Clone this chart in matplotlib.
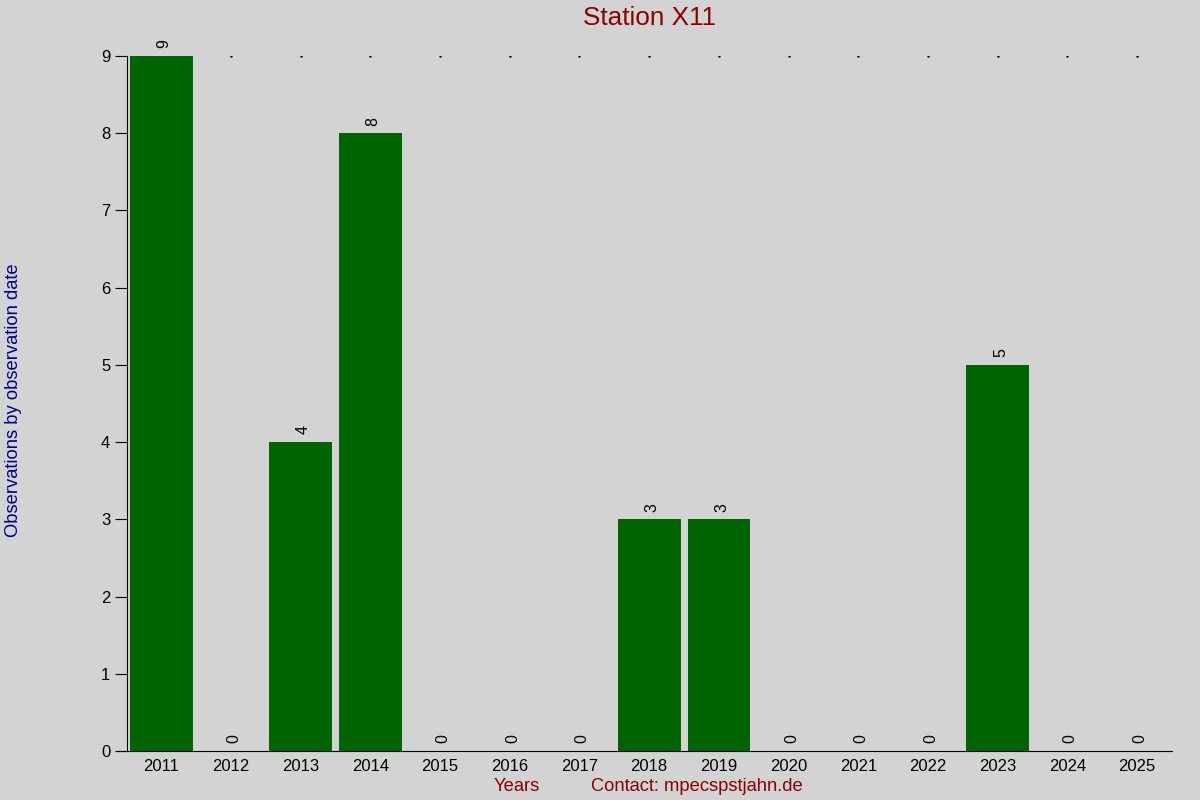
import matplotlib
matplotlib.use("Agg")
import matplotlib.pyplot as plt

plt.rcParams["font.family"] = ["Liberation Sans", "DejaVu Sans"]

years = [str(y) for y in range(2011, 2026)]
counts = [9, 0, 4, 8, 0, 0, 0, 3, 3, 0, 0, 0, 5, 0, 0]

bg = "#d3d3d3"
fig = plt.figure(figsize=(12, 8), dpi=100, facecolor=bg)
ax = fig.add_axes([0.0983, 0.06125, 0.8784, 0.86875], facecolor=bg)

x = list(range(len(years)))
ax.bar(x, counts, width=0.9, color="#006400", zorder=3)
for xi, v in zip(x, counts):
    ax.text(xi + 0.04, v + 0.1, str(v), rotation=90, ha="center", va="bottom",
            fontsize=11.5, color="black", zorder=4)

# dotted marks at the top level, hidden behind the bars
ax.plot(x, [9] * len(x), ls="none", marker=".", ms=1.5, color="black",
        zorder=2)

ax.set_xlim(-0.62, 14.5)
ax.set_ylim(0, 9)
ax.set_xticks(x)
ax.set_xticklabels(years, fontsize=12)
ax.set_yticks(range(10))
ax.tick_params(axis="x", length=0, pad=6)
ax.tick_params(axis="y", length=9, labelsize=12, pad=3)
ax.spines["top"].set_visible(False)
ax.spines["right"].set_visible(False)
ax.spines["left"].set_position(("data", -0.49))

fig.text(0.541, 0.977, "Station X11", ha="center", va="center",
         fontsize=18.8, color="#8b0000")
fig.text(0.0115, 0.5, "Observations by observation date", rotation=90,
         ha="center", va="center", fontsize=13.2, color="#00008b")
fig.text(0.431, 0.017, "Years", ha="center", va="center",
         fontsize=13.2, color="#8b0000")
fig.text(0.581, 0.017, "Contact: mpecspstjahn.de", ha="center", va="center",
         fontsize=13.2, color="#8b0000")

fig.savefig("out.png", dpi=100, facecolor=bg)
